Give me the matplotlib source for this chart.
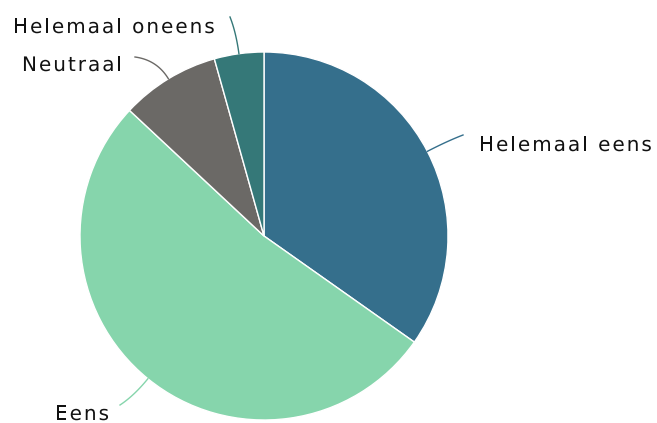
import matplotlib.pyplot as plt
from matplotlib.font_manager import FontProperties
from matplotlib.textpath import TextPath, text_to_path
from matplotlib.patches import PathPatch
import numpy as np

labels = ['Helemaal eens', 'Eens', 'Neutraal', 'Helemaal oneens']
counts = [8, 12, 2, 1]
colors = ['#356f8c', '#86d5ac', '#6b6966', '#357878']

# label start + baseline (pixel coords, y from top)
label_pos = [(479, 151), (55, 420), (22, 71), (13, 33)]
line_end = [(463, 135), (120, 405), (135, 57), (230, 17)]

W, H = 657, 423
cx, cy, r = 264, 236, 184
spacing = 2.0  # extra letter spacing, px
fsize = 20.0   # font size in px (= data units here)

fig = plt.figure(figsize=(W / 100, H / 100), dpi=100)
ax = fig.add_axes([0, 0, 1, 1])

wedges, _ = ax.pie(counts, colors=colors, startangle=90, counterclock=False,
                   center=(cx, H - cy), radius=r,
                   wedgeprops=dict(edgecolor='white', linewidth=1))
ax.set_xlim(0, W)
ax.set_ylim(0, H)
ax.set_aspect('equal')
ax.axis('off')

prop = FontProperties(family='DejaVu Sans', size=fsize)


def text_w(s):
    # advance width, with a trailing 'H' so spaces count
    w1 = text_to_path.get_text_width_height_descent(s + 'H', prop, ismath=False)[0]
    w2 = text_to_path.get_text_width_height_descent('H', prop, ismath=False)[0]
    return w1 - w2


def spaced_text(x, y, s):
    for i, ch in enumerate(s):
        if ch == ' ':
            continue
        tp = TextPath((x + text_w(s[:i]) + i * spacing, y), ch, prop=prop)
        ax.add_patch(PathPatch(tp, facecolor='#111111', edgecolor='none'))


for w, lab, pos, end in zip(wedges, labels, label_pos, line_end):
    mid = np.deg2rad((w.theta1 + w.theta2) / 2)
    d = np.array([np.cos(mid), np.sin(mid)])
    p0 = np.array([cx, H - cy]) + r * d
    p1 = np.array([cx, H - cy]) + (r + 22) * d
    p2 = np.array([end[0], H - end[1]])
    t = np.linspace(0, 1, 30)[:, None]
    curve = (1 - t) ** 2 * p0 + 2 * (1 - t) * t * p1 + t ** 2 * p2
    ax.plot(curve[:, 0], curve[:, 1], color=w.get_facecolor(), lw=1)
    spaced_text(pos[0], H - pos[1], lab)

plt.savefig('out.png', dpi=100)
